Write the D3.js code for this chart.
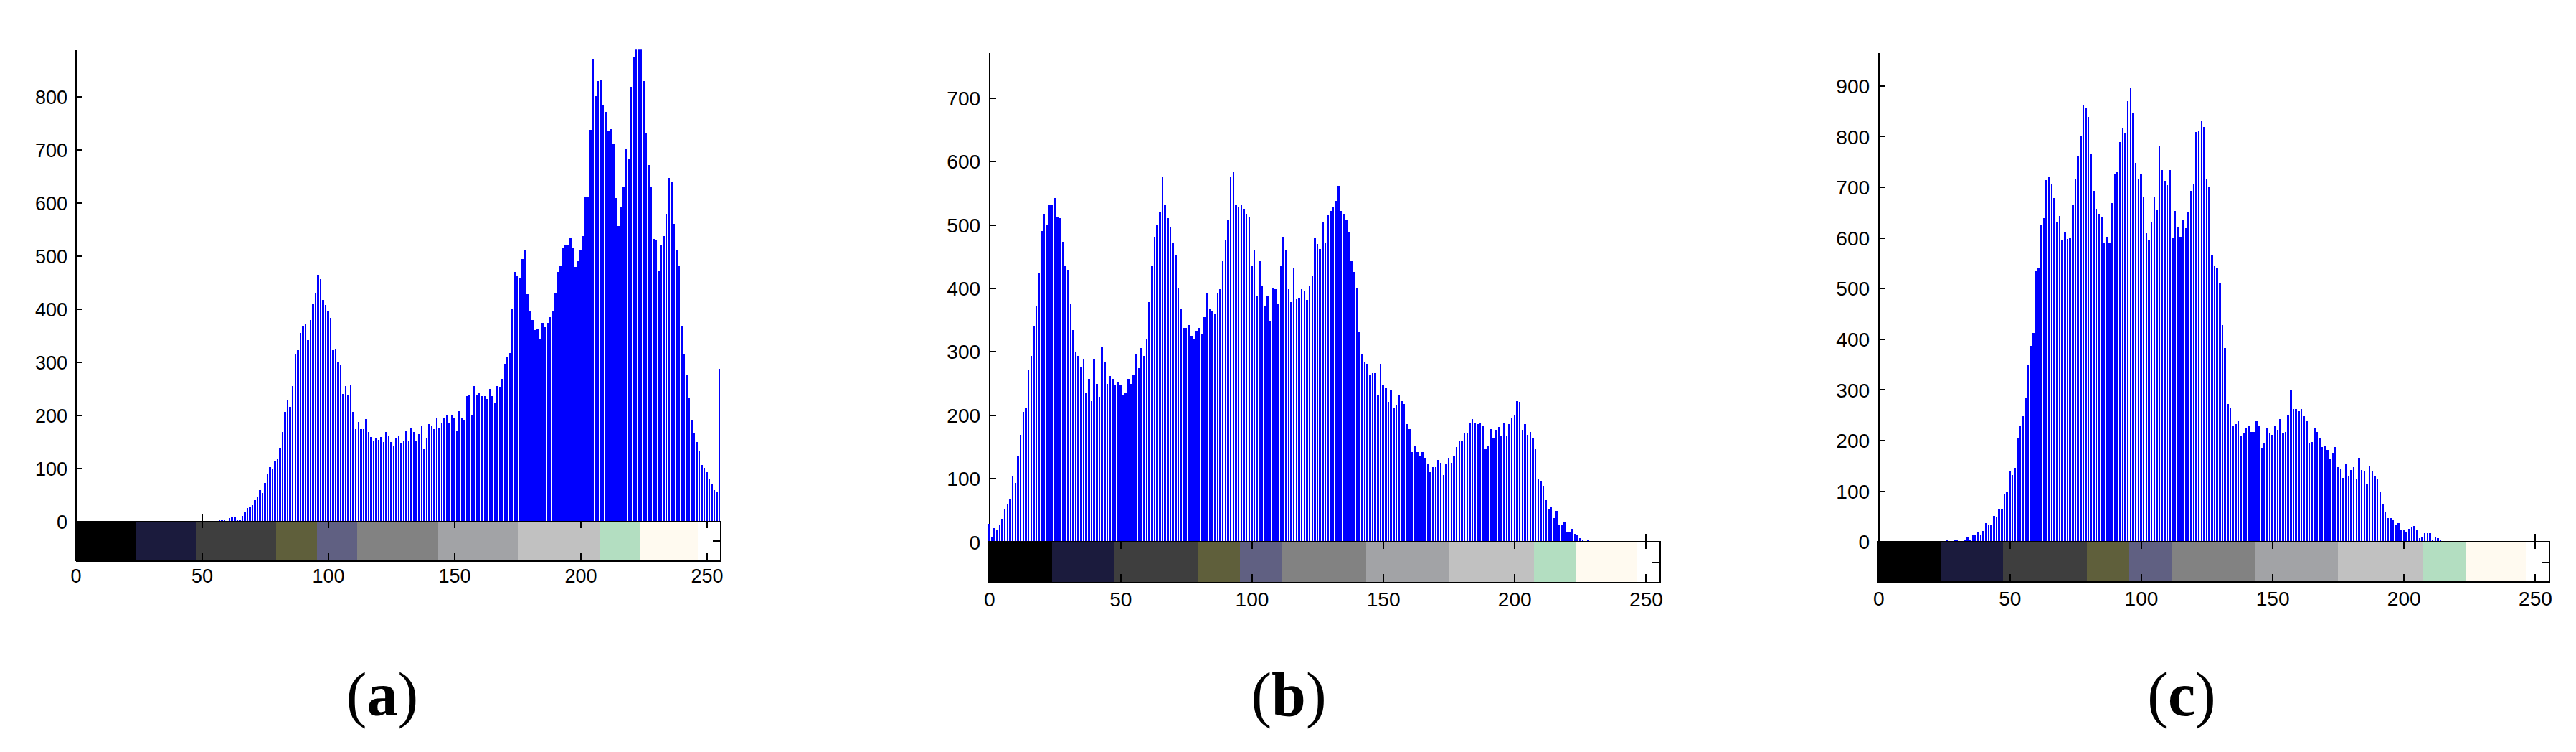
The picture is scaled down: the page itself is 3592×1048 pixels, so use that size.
<!DOCTYPE html>
<meta charset="utf-8">
<style>
body { margin: 0; background: #fff; }
svg { display: block; background: #fff; }
.tick text { font-family: "Liberation Sans", Arial, sans-serif; fill: #000; }
.tick line, .domain { stroke: #000; stroke-width: 2px; shape-rendering: crispEdges; }
.bar { fill: #0000ff; shape-rendering: crispEdges; }
.cbox { fill: none; stroke: #000; stroke-width: 2px; shape-rendering: crispEdges; }
.plabel { font-family: "Liberation Serif", "Times New Roman", serif; fill: #000; }
</style>
<svg width="3592" height="1048"></svg>
<script src="https://cdn.jsdelivr.net/npm/d3@7"></script>
<script>

// histogram counts, grey level 0..255
var countsA = [
  0,0,0,0,0,0,0,0,0,0,0,0,0,0,0,0,
  0,0,0,0,0,0,0,0,0,0,0,0,0,0,0,0,
  0,0,0,0,0,0,0,0,0,0,0,0,0,0,0,0,
  0,0,0,0,0,0,0,0,0,2,2,3,1,6,8,8,
  4,3,11,17,25,28,31,40,45,59,53,73,89,103,98,115,
  118,137,168,207,230,216,255,314,322,355,367,372,341,380,411,431,
  464,456,417,408,397,383,322,325,300,294,240,255,238,257,207,174,
  188,174,174,193,168,159,151,157,154,159,149,168,162,149,143,157,
  161,147,152,171,152,177,169,152,164,180,136,158,183,180,174,194,
  177,185,194,199,185,199,194,171,208,194,191,236,239,199,255,239,
  241,236,236,231,250,236,222,255,253,269,297,309,317,400,470,462,
  458,495,512,428,397,380,360,362,343,374,366,374,385,397,430,470,
  481,514,521,521,533,514,479,490,512,537,611,611,737,872,801,830,
  832,785,771,735,739,712,609,557,591,630,703,684,819,875,905,930,
  910,829,731,672,630,532,530,473,521,537,579,647,639,560,512,481,
  369,316,276,233,191,166,149,132,106,101,93,79,70,59,55,287
];

var countsB = [
  28,7,21,19,26,36,51,60,68,103,93,134,169,205,210,271,
  293,339,371,423,490,517,500,530,532,542,512,510,473,434,429,376,
  334,300,293,276,288,235,257,222,288,249,229,308,283,249,261,257,
  246,251,246,232,235,257,249,264,296,274,305,293,320,378,434,481,
  500,520,576,530,510,496,471,451,400,366,337,337,342,325,320,332,
  337,327,354,393,366,364,359,393,398,442,476,508,576,583,530,527,
  532,525,517,513,434,459,388,442,403,371,388,347,400,398,376,434,
  481,459,398,378,432,383,385,398,395,381,403,418,478,469,462,503,
  471,515,522,527,537,561,522,517,508,488,442,425,400,330,295,283,
  281,264,266,266,232,281,246,242,220,239,212,215,232,222,217,186,
  178,141,151,141,134,141,132,122,110,117,117,129,124,105,122,132,
  124,136,149,159,159,171,171,188,193,188,186,188,183,146,151,178,
  164,176,181,166,188,166,186,195,200,222,220,176,186,169,173,164,
  146,100,95,88,66,51,54,37,49,27,27,32,15,15,20,12,
  10,5,2,0,2,0,0,0,0,0,0,0,0,0,0,0,
  0,0,0,0,0,0,0,0,0,0,0,0,0,0,0,1
];

var countsC = [
  0,0,0,0,0,0,0,0,0,0,0,0,0,0,0,0,
  0,0,0,0,0,0,0,0,0,0,2,0,0,2,2,0,
  0,3,10,3,14,12,18,12,21,36,33,33,51,48,63,64,
  95,97,140,131,146,203,229,247,283,350,387,412,535,540,626,638,
  714,720,705,678,630,643,596,611,598,600,665,715,761,802,862,856,
  838,764,693,657,647,640,590,601,590,668,727,729,788,815,807,870,
  895,846,748,716,727,680,609,595,631,681,656,782,733,712,703,733,
  600,652,622,602,634,618,651,692,706,809,812,830,818,717,699,566,
  543,541,511,428,382,272,263,227,232,238,208,215,224,229,217,217,
  238,227,184,193,223,214,211,227,220,242,214,217,251,300,261,261,
  257,261,248,238,193,196,223,217,205,187,190,181,163,175,186,147,
  144,126,153,129,141,147,123,165,141,138,113,150,138,129,123,98,
  74,59,47,46,43,34,37,22,22,19,25,28,31,22,7,9,
  16,16,16,3,9,7,3,0,0,0,0,0,0,0,0,0,
  0,0,0,0,0,0,0,0,0,0,0,0,0,0,0,0,
  0,0,0,0,0,0,0,0,0,0,0,0,0,0,0,1
];

var xTicks = [0, 50, 100, 150, 200, 250];
var yTicksA = [0, 100, 200, 300, 400, 500, 600, 700, 800];
var yTicksB = [0, 100, 200, 300, 400, 500, 600, 700];
var yTicksC = [0, 100, 200, 300, 400, 500, 600, 700, 800, 900];
var yMaxes = [890, 771, 965];
var labels = ["a", "b", "c"];

// colour bar of the indexed image: start level of each colour
var cmapStart = [0, 24, 47.5, 79.5, 95.5, 111.5, 143.5, 175, 207.5, 223.5, 246.5];
var cmapColors = ["#000000", "#1b1b3d", "#3e3e3e", "#5f5f3b", "#606082", "#828282",
                  "#a2a3a6", "#c1c1c1", "#b3dec1", "#fffaf0", "#ffffff"];
var xMax = 255.5;

var svg = d3.select("svg");

var layout = [
  {left: 105.5, right: 1004.9, top: 68.3, zero: 726.7, cbBottom: 781, s: 1, labelX: 533},
  {left: 1379.2, right: 2315.1, top: 73.5, zero: 754.9, cbBottom: 811.8, s: 1.041, labelX: 1797},
  {left: 2619.2, right: 3555.1, top: 73.5, zero: 754.7, cbBottom: 811.3, s: 1.041, labelX: 3042}
];
var allCounts = [countsA, countsB, countsC];
var allYTicks = [yTicksA, yTicksB, yTicksC];

layout.forEach(function(p, k) {
  var counts = allCounts[k];
  var s = p.s;
  var fontSize = 27 * s;

  var x = d3.scaleLinear().domain([0, xMax]).range([p.left, p.right]);
  var y = d3.scaleLinear().domain([0, yMaxes[k]]).range([p.zero, p.top]);

  var g = svg.append("g");

  g.append("clipPath").attr("id", "clip" + k)
    .append("rect")
    .attr("x", p.left - 3).attr("y", p.top)
    .attr("width", p.right - p.left + 6).attr("height", p.zero - p.top);

  // histogram axes (drawn below the data)
  var yAxis = d3.axisLeft(y).tickValues(allYTicks[k])
      .tickSizeInner(-9.3 * s).tickSizeOuter(0).tickPadding(11.5 * s);
  var ga = g.append("g").attr("transform", "translate(" + p.left + ",0)").call(yAxis);
  ga.selectAll("text").style("font-size", fontSize + "px").attr("dy", "0.36em");

  var xAxisHist = d3.axisBottom(x).tickValues(xTicks)
      .tickSizeInner(-10 * s).tickSizeOuter(0).tickFormat("");
  g.append("g").attr("transform", "translate(0," + p.zero + ")").call(xAxisHist);

  // bars
  g.append("g").attr("clip-path", "url(#clip" + k + ")")
    .selectAll("rect")
    .data(counts.map(function(c, i) { return {level: i, count: c}; })
      .filter(function(d) { return d.count > 0; }))
    .enter().append("rect")
    .attr("class", "bar")
    .attr("x", function(d) { return x(d.level) - 1.25; })
    .attr("width", 2.5)
    .attr("y", function(d) { return y(d.count); })
    .attr("height", function(d) { return p.zero - y(d.count); });

  // colour bar axes
  var segs = cmapStart.map(function(v, i) {
    return {x0: v, x1: i < cmapStart.length - 1 ? cmapStart[i + 1] : xMax, color: cmapColors[i]};
  });
  g.append("g").selectAll("rect")
    .data(segs).enter().append("rect")
    .attr("x", function(d) { return x(d.x0); })
    .attr("width", function(d) { return x(d.x1) - x(d.x0); })
    .attr("y", p.zero)
    .attr("height", p.cbBottom - p.zero)
    .attr("fill", function(d) { return d.color; })
    .attr("shape-rendering", "crispEdges");

  var cbTop = d3.axisTop(x).tickValues(xTicks)
      .tickSizeInner(-9.5 * s).tickSizeOuter(0).tickFormat("");
  g.append("g").attr("transform", "translate(0," + p.zero + ")").call(cbTop);

  var cbBot = d3.axisBottom(x).tickValues(xTicks)
      .tickSizeInner(-11 * s).tickSizeOuter(0).tickPadding(12.3 * s);
  var gb = g.append("g").attr("transform", "translate(0," + p.cbBottom + ")").call(cbBot);
  gb.selectAll("text").style("font-size", fontSize + "px");

  var yc = d3.scaleLinear().domain([0, 1]).range([p.cbBottom, p.zero]);
  var cbRight = d3.axisRight(yc).tickValues([0.5])
      .tickSizeInner(-11 * s).tickSizeOuter(0).tickFormat("");
  g.append("g").attr("transform", "translate(" + p.right + ",0)").call(cbRight)
    .select(".domain").remove();

  g.append("rect").attr("class", "cbox")
    .attr("x", p.left).attr("y", p.zero)
    .attr("width", p.right - p.left).attr("height", p.cbBottom - p.zero);

  g.selectAll(".tick text").attr("fill", "#000");

  // panel caption
  var t = svg.append("text").attr("class", "plabel")
    .attr("x", p.labelX).attr("y", 997)
    .attr("text-anchor", "middle")
    .style("font-size", "86px");
  t.append("tspan").text("(");
  t.append("tspan").style("font-weight", "bold").text(labels[k]);
  t.append("tspan").text(")");
});

</script>
